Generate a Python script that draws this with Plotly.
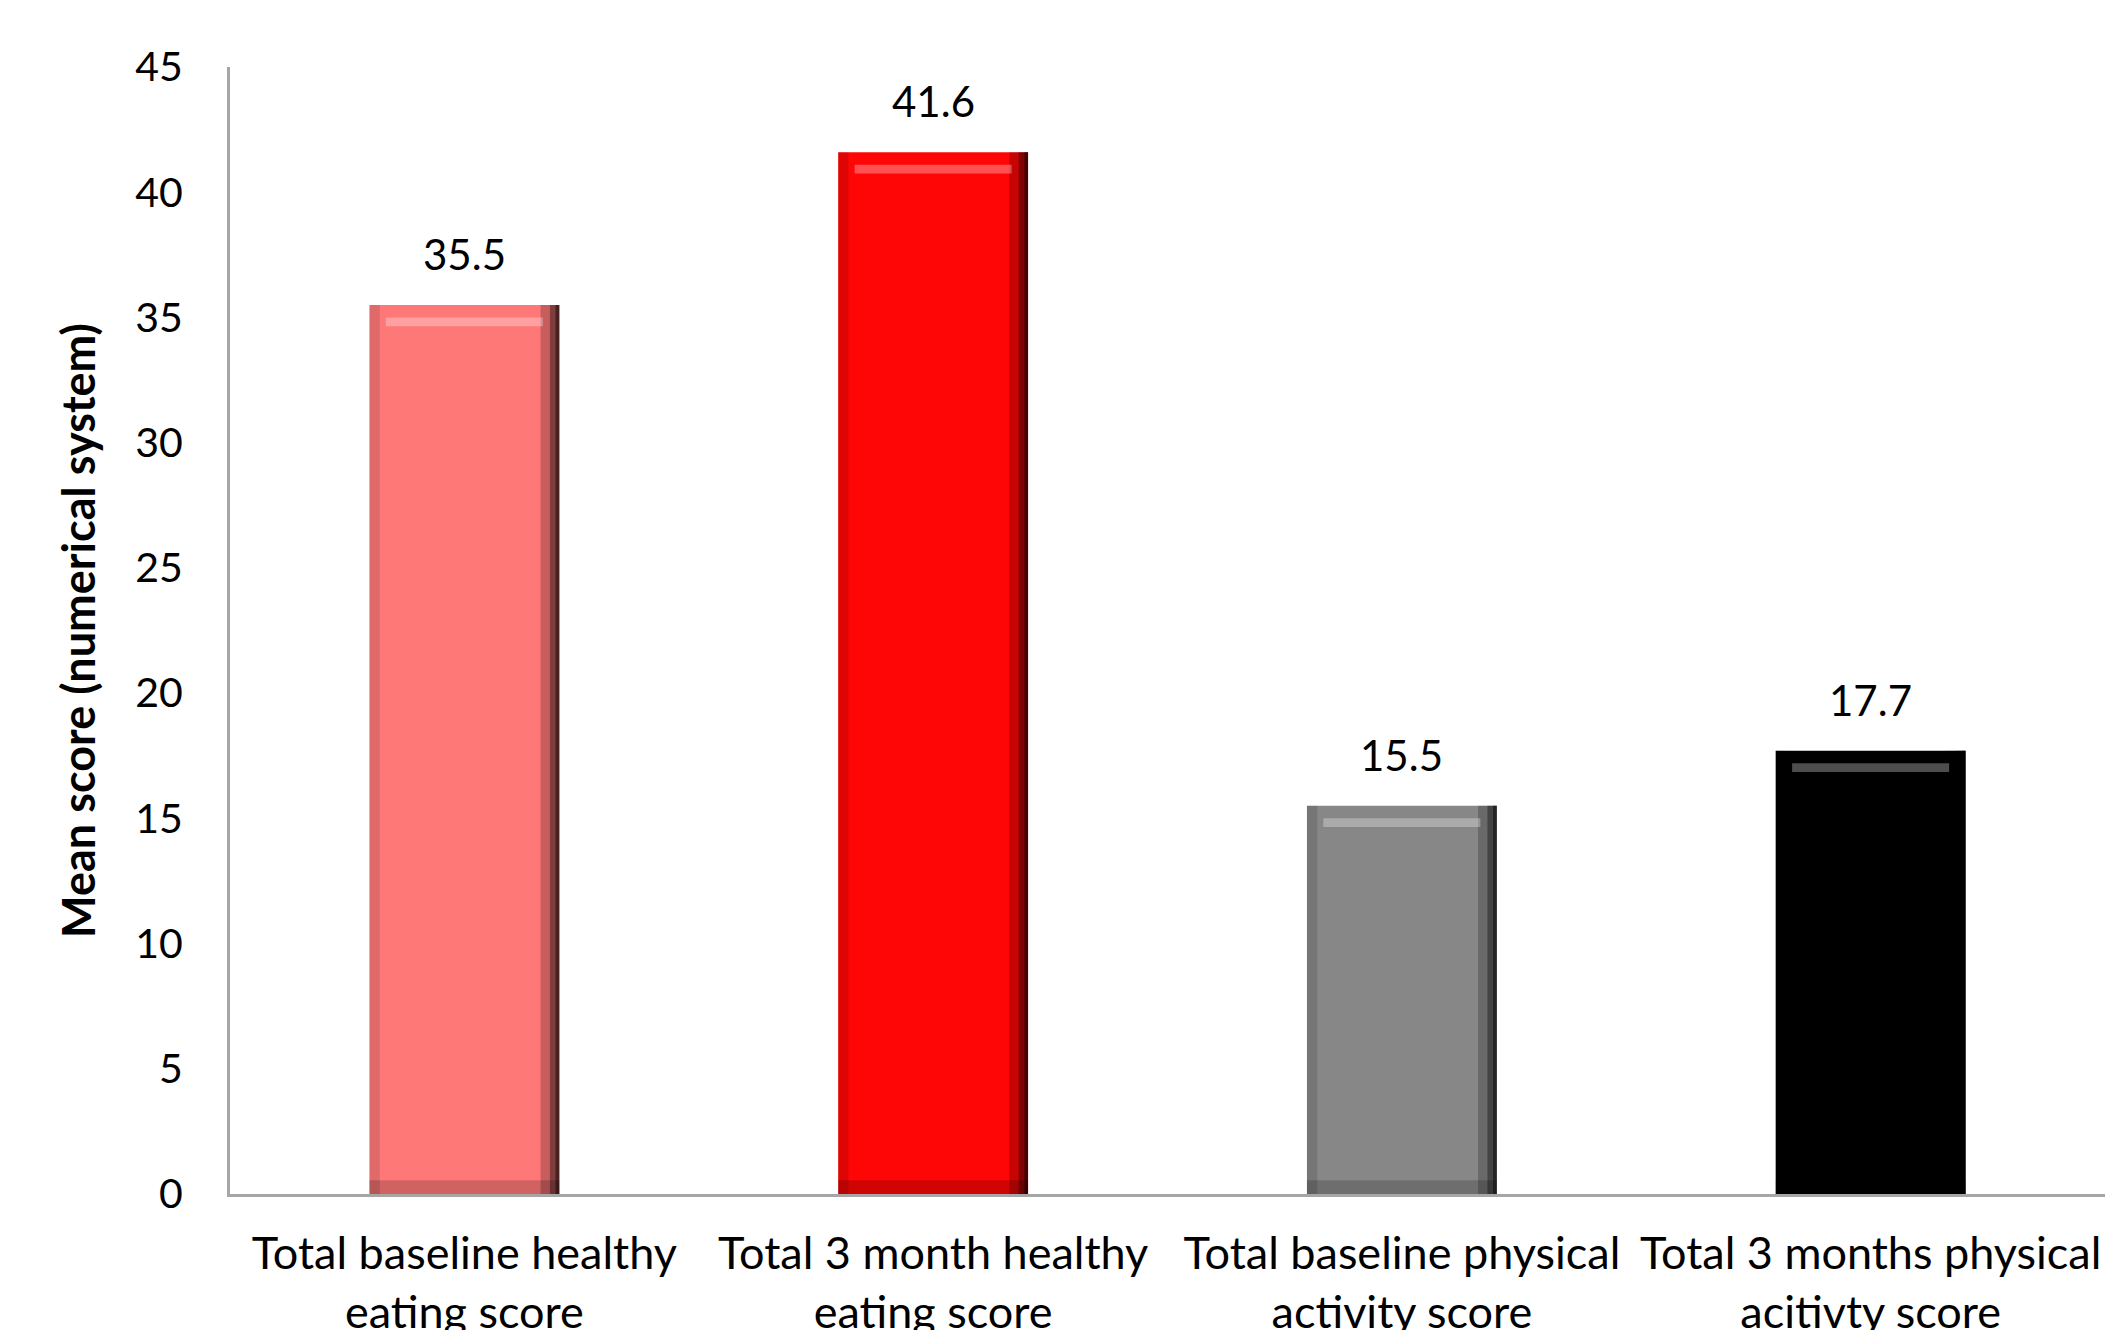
import plotly.graph_objects as go

categories = [
    "Total baseline healthy<br>eating score",
    "Total 3 month healthy<br>eating score",
    "Total baseline physical<br>activity score",
    "Total 3 months physical<br>acitivty score",
]
values = [35.5, 41.6, 15.5, 17.7]
value_labels = ["35.5", "41.6", "15.5", "17.7"]
colors = ["#FF7878", "#FF0606", "#878787", "#000000"]
y_ticks = [0, 5, 10, 15, 20, 25, 30, 35, 40, 45]
y_title = "Mean score (numerical system)"

FONT = "Lato"
BW = 0.405

fig = go.Figure()
fig.add_trace(go.Bar(x=categories, y=values, width=BW, marker=dict(color=colors, line=dict(width=0)),
                     hoverinfo="x+y", showlegend=False))
# bevel shading overlays
fig.add_trace(go.Bar(x=categories, y=values, width=0.04, offset=BW / 2 - 0.04,
                     marker=dict(color="rgba(0,0,0,0.22)", line=dict(width=0)), hoverinfo="skip", showlegend=False))
fig.add_trace(go.Bar(x=categories, y=values, width=0.02, offset=BW / 2 - 0.02,
                     marker=dict(color="rgba(0,0,0,0.35)", line=dict(width=0)), hoverinfo="skip", showlegend=False))
fig.add_trace(go.Bar(x=categories, y=values, width=0.008, offset=BW / 2 - 0.008,
                     marker=dict(color="rgba(0,0,0,0.45)", line=dict(width=0)), hoverinfo="skip", showlegend=False))
fig.add_trace(go.Bar(x=categories, y=values, width=0.022, offset=-BW / 2,
                     marker=dict(color="rgba(0,0,0,0.12)", line=dict(width=0)), hoverinfo="skip", showlegend=False))
fig.add_trace(go.Bar(x=categories, y=[0.55] * len(values), width=BW, offset=-BW / 2,
                     marker=dict(color="rgba(0,0,0,0.18)", line=dict(width=0)), hoverinfo="skip", showlegend=False))
fig.add_trace(go.Bar(x=categories, y=[0.35] * len(values), base=[v - 0.85 for v in values], width=BW - 0.07,
                     offset=-BW / 2 + 0.035,
                     marker=dict(color="rgba(255,255,255,0.3)", line=dict(width=0)), hoverinfo="skip", showlegend=False))

for c, v, t in zip(categories, values, value_labels):
    fig.add_annotation(x=c, y=v, text=t, showarrow=False, yanchor="middle", yshift=51,
                       font=dict(family=FONT, size=42, color="#000000"))

fig.update_layout(
    width=2120, height=1330,
    margin=dict(l=230, r=15, t=67, b=136),
    paper_bgcolor="white", plot_bgcolor="white",
    barmode="overlay",
    font=dict(family=FONT, size=42, color="#000000"),
)
fig.update_xaxes(
    showline=True, linecolor="#A6A6A6", linewidth=3, showgrid=False, ticks="",
    tickfont=dict(family=FONT, size=45, color="#000000"), ticklabelstandoff=18,
    automargin=False,
)
fig.update_yaxes(
    range=[0, 45], tickvals=y_ticks, showline=True, linecolor="#A6A6A6", linewidth=3,
    showgrid=False, zeroline=False, ticks="", ticklabelstandoff=36,
    tickfont=dict(family=FONT, size=41, color="#000000"),
    title=dict(text="<b>" + y_title + "</b>", font=dict(family=FONT, size=45, color="#000000"), standoff=26),
    automargin=False,
)
fig.write_html("out.html")
